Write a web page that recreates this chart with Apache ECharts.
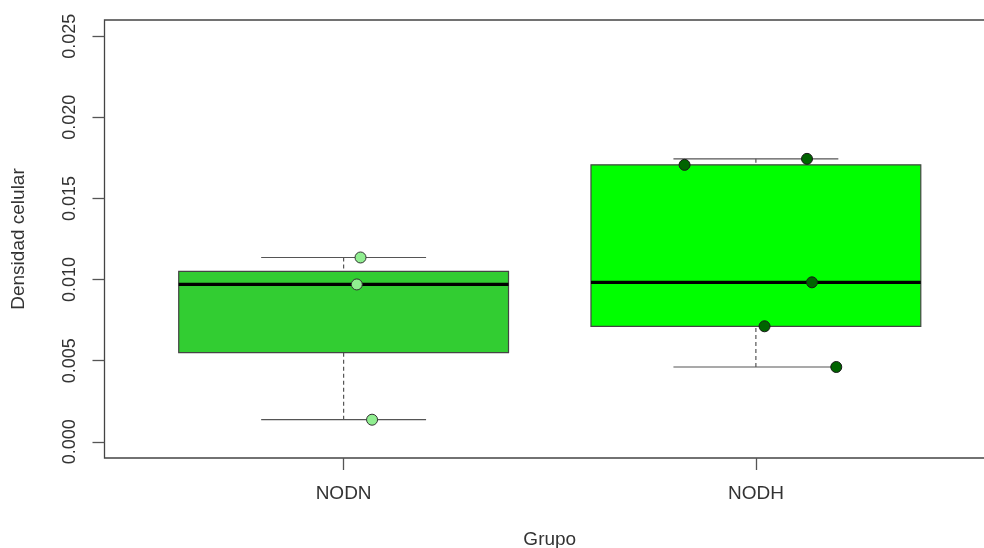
<!DOCTYPE html>
<html>
<head>
<meta charset="utf-8">
<script src="https://cdn.jsdelivr.net/npm/echarts@6/dist/echarts.min.js"></script>
<style>
html,body{margin:0;padding:0;background:#fff;}
#chart{width:984px;height:548px;}
</style>
</head>
<body>
<div id="chart"></div>
<script>
// Categories
var categories = ['NODN', 'NODH'];
// Box statistics per group: [low whisker, Q1, median, Q3, high whisker]
var boxNODN = [0.00136, 0.0055, 0.0097, 0.0105, 0.01136];
var boxNODH = [0.00461, 0.00712, 0.00983, 0.01707, 0.01744];
// Jittered points (x offset within group, value)
var pointsNODN_x = [1.041, 1.032, 1.069];
var pointsNODN_y = [0.01136, 0.0097, 0.00136];
var pointsNODH_x = [0.827, 1.124, 1.136, 1.021, 1.195];
var pointsNODH_y = [0.01707, 0.01744, 0.00983, 0.00712, 0.00461];
// Y tick labels
var yTicks = [0.000, 0.005, 0.010, 0.015, 0.020, 0.025];
var boxColors = ['#32CD32', '#00FF00'];
var pointColors = ['#90EE90', '#006400'];

var boxData = [
  [1].concat(boxNODN),
  [2].concat(boxNODH)
];
var ptsN = pointsNODN_x.map(function (x, i) { return [x, pointsNODN_y[i]]; });
var ptsH = pointsNODH_x.map(function (x, i) { return [x + 1, pointsNODH_y[i]]; });

var FONT = '"Liberation Sans", Arial, sans-serif';
var FS = 19;

function renderBox(params, api) {
  var x = api.value(0);
  var lo = api.value(1), q1 = api.value(2), med = api.value(3), q3 = api.value(4), hi = api.value(5);
  var idx = params.dataIndex;
  var pLoL = api.coord([x - 0.2, lo]), pLoR = api.coord([x + 0.2, lo]);
  var pHiL = api.coord([x - 0.2, hi]), pHiR = api.coord([x + 0.2, hi]);
  var pLo = api.coord([x, lo]), pHi = api.coord([x, hi]);
  var pQ1 = api.coord([x, q1]), pQ3 = api.coord([x, q3]);
  var bL = api.coord([x - 0.4, q3]), bR = api.coord([x + 0.4, q1]);
  var mL = api.coord([x - 0.4, med]), mR = api.coord([x + 0.4, med]);
  var wStyle = { stroke: '#555', lineWidth: 1.2, lineDash: [4, 3] };
  var cStyle = { stroke: '#555', lineWidth: 1.2 };
  return {
    type: 'group',
    children: [
      { type: 'line', shape: { x1: pHi[0], y1: pHi[1], x2: pQ3[0], y2: pQ3[1] }, style: wStyle },
      { type: 'line', shape: { x1: pLo[0], y1: pLo[1], x2: pQ1[0], y2: pQ1[1] }, style: wStyle },
      { type: 'line', shape: { x1: pHiL[0], y1: pHiL[1], x2: pHiR[0], y2: pHiR[1] }, style: cStyle },
      { type: 'line', shape: { x1: pLoL[0], y1: pLoL[1], x2: pLoR[0], y2: pLoR[1] }, style: cStyle },
      { type: 'rect', shape: { x: bL[0], y: bL[1], width: bR[0] - bL[0], height: bR[1] - bL[1] },
        style: { fill: boxColors[idx], stroke: '#444', lineWidth: 1.2 } },
      { type: 'line', shape: { x1: mL[0], y1: mL[1], x2: mR[0], y2: mR[1] }, style: { stroke: '#000', lineWidth: 3.2 } }
    ]
  };
}

var chart = echarts.init(document.getElementById('chart'));
chart.setOption({
  animation: false,
  backgroundColor: '#fff',
  grid: { left: 104.5, right: -11, top: 20, bottom: 90, show: true, borderColor: '#444', borderWidth: 1.3,
    backgroundColor: 'transparent', containLabel: false, outerBoundsMode: 'none' },
  xAxis: {
    type: 'value', min: 0.42, max: 2.58,
    name: 'Grupo', nameLocation: 'middle', nameGap: 72,
    nameTextStyle: { fontFamily: FONT, fontSize: FS, color: '#333' },
    axisLine: { show: false, onZero: false },
    splitLine: { show: false },
    axisTick: { show: true, inside: false, length: 12, customValues: [1, 2], lineStyle: { color: '#555', width: 1.3 } },
    axisLabel: { customValues: [1, 2], margin: 26, fontFamily: FONT, fontSize: FS, color: '#333',
      formatter: function (v) { return categories[Math.round(v) - 1]; } }
  },
  yAxis: {
    type: 'value', min: -0.001, max: 0.026,
    name: 'Densidad celular', nameLocation: 'middle', nameGap: 76, nameRotate: 90,
    nameTextStyle: { fontFamily: FONT, fontSize: FS, color: '#333' },
    axisLine: { show: false, onZero: false },
    splitLine: { show: false },
    axisTick: { show: true, length: 12, customValues: yTicks, lineStyle: { color: '#555', width: 1.3 } },
    axisLabel: { customValues: yTicks, rotate: 90, margin: 25, fontFamily: FONT, fontSize: 18, color: '#333',
      formatter: function (v) { return v.toFixed(3); } }
  },
  series: [
    { type: 'custom', renderItem: renderBox, data: boxData, encode: { x: 0, y: [1, 2, 3, 4, 5] }, z: 2, clip: false },
    { type: 'scatter', data: ptsN, symbolSize: 11, z: 3,
      itemStyle: { color: pointColors[0], borderColor: '#333', borderWidth: 1, opacity: 1 } },
    { type: 'scatter', data: ptsH, symbolSize: 11, z: 3,
      itemStyle: { color: pointColors[1], borderColor: '#1a1a1a', borderWidth: 1, opacity: 1 } }
  ]
});
</script>
</body>
</html>
